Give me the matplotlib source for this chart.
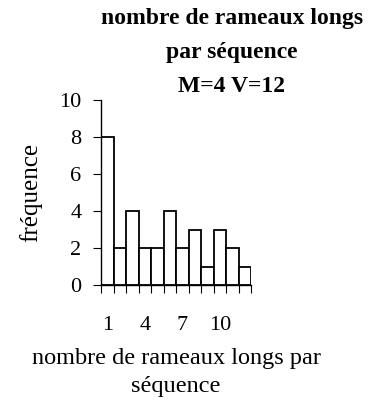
import matplotlib.pyplot as plt
import numpy as np

# nombre de rameaux longs par séquence -> fréquence
classes = [1, 2, 3, 4, 5, 6, 7, 8, 9, 10, 11, 12]
frequences = [8, 2, 4, 2, 2, 4, 2, 3, 1, 3, 2, 1]
labels_x = [1, 4, 7, 10]
labels_y = [0, 2, 4, 6, 8, 10]

plt.rcParams['font.family'] = ['Liberation Serif', 'DejaVu Serif']

fig = plt.figure(figsize=(3.73, 4.01), dpi=100)
ax = fig.add_axes([101 / 373, 1 - 285 / 401, 150 / 373, 185 / 401])

ax.bar(classes, frequences, width=1.0, color='white', edgecolor='black', linewidth=1.3)

ax.set_xlim(0.5, 12.5)
ax.set_ylim(0, 10)
for s in ['top', 'right']:
    ax.spines[s].set_visible(False)
ax.spines['left'].set_linewidth(1.0)
ax.spines['bottom'].set_linewidth(1.0)

# graduations en bordure de classes, étiquettes au centre
ax.set_xticks(labels_x)
ax.set_xticks(np.arange(0.5, 13, 1), minor=True)
ax.tick_params(axis='x', which='major', length=0, pad=22, labelsize=16)
ax.tick_params(axis='x', which='minor', length=6, width=0.8, direction='out')
ax.set_yticks(labels_y)
ax.tick_params(axis='y', length=6, width=0.8, direction='out', pad=8, labelsize=16)

ax.set_ylabel('fréquence', fontsize=18, labelpad=12)
ax.set_xlabel('nombre de rameaux longs par\nséquence', fontsize=17.5, labelpad=10, linespacing=1.4)

fig.text(232 / 373, 1 - 8 / 401, 'nombre de rameaux longs\npar séquence\nM=4 V=12',
         ha='center', va='top', fontsize=17, fontweight='bold', linespacing=1.8)

fig.savefig('out.png', dpi=100)
